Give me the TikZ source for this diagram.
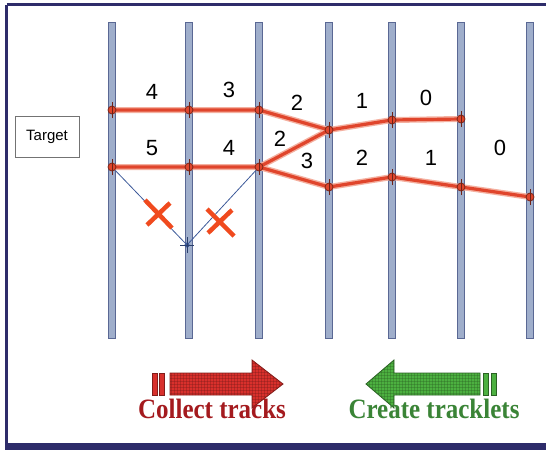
\documentclass[tikz,border=0pt]{standalone}
\usepackage{fontspec}
\setmainfont{Liberation Serif}
\setsansfont{Liberation Sans}
\usetikzlibrary{patterns}
\definecolor{framec}{HTML}{2E2C6A}
\definecolor{barfill}{HTML}{9FAECB}
\definecolor{bardraw}{HTML}{5A6894}
\definecolor{trk}{HTML}{E0452C}
\definecolor{trkglow}{HTML}{F4B0A0}
\definecolor{thinb}{HTML}{3D5A9A}
\definecolor{xred}{HTML}{F04A1E}
\definecolor{redarr}{HTML}{D8302C}
\definecolor{redtxt}{HTML}{A41A1E}
\definecolor{grnarr}{HTML}{4CB040}
\definecolor{grntxt}{HTML}{3A8436}
\tikzset{
  bar/.style={fill=barfill,draw=bardraw,line width=0.9pt},
  pt/.style={circle,fill=trk,draw=trk!55!black,line width=0.8pt,inner sep=0pt,minimum size=8pt},
  bpt/.style={circle,fill=thinb,inner sep=0pt,minimum size=5pt},
  glow/.style={trkglow,line width=6pt,line join=round},
  track/.style={trk,line width=3.2pt,line join=round},
  thin/.style={thinb,line width=0.8pt},
  xmark/.style={xred,line width=4.5pt},
  lab/.style={font=\sffamily\fontsize{22}{22}\selectfont,inner sep=0pt},
  arrtxt/.style={font=\bfseries\fontsize{25}{25}\selectfont,inner sep=0pt,yscale=1.12,transform shape}
}
\begin{document}
\begin{tikzpicture}[x=1pt,y=-1pt]
\useasboundingbox (0,0) rectangle (546,450);
\fill[white] (0,0) rectangle (546,450);
% frame
\draw[framec,line width=3pt] (6.5,4.5) -- (548,4.5);
\draw[framec,line width=3pt] (6.5,4.5) -- (6.5,446);
\fill[framec] (5,443) rectangle (546,450);
% bars
\foreach \n/\x in {1/112,2/189,3/259,4/329,5/392,6/461,7/530}{
  \draw[bar] (\x-3.5,22) rectangle (\x+3.5,338);
}
% points
\coordinate (a1) at (112,110);
\coordinate (a2) at (189,110);
\coordinate (a3) at (259,110);
\coordinate (m4) at (329,130);
\coordinate (a5) at (392,120);
\coordinate (a6) at (461,119);
\coordinate (b1) at (112,167);
\coordinate (b2) at (189,167);
\coordinate (b3) at (259,167);
\coordinate (b4) at (329,187);
\coordinate (b5) at (392,177);
\coordinate (b6) at (461,187);
\coordinate (b7) at (530,197);
\coordinate (v) at (187,245);
% thin blue lines
\draw[thin] (b1) -- (v) -- (b3);
% tracks
\foreach \s in {glow,track}{
  \draw[\s] (a1) -- (a2) -- (a3) -- (m4) -- (a5) -- (a6);
  \draw[\s] (b1) -- (b2) -- (b3) -- (b4) -- (b5) -- (b6) -- (b7);
  \draw[\s] (b3) -- (m4);
}
\foreach \p in {a1,a2,a3,m4,a5,a6,b1,b2,b3,b4,b5,b6,b7}{
  \node[pt] at (\p) {};
  \draw[trk!50!black,line width=0.6pt] ([yshift=-8pt]\p) -- ([yshift=8pt]\p);
}
\node[bpt] at (v) {};
\draw[thinb!70!black,line width=0.6pt] ([yshift=-8pt]v) -- ([yshift=8pt]v) ([xshift=-7pt]v) -- ([xshift=7pt]v);
% crosses
\draw[xmark] (145,200) -- (172,228) (170,203) -- (147,225);
\draw[xmark] (207,209) -- (234,236) (232,210) -- (208,233);
% labels
\node[lab] (l1) at (152,92) {4};
\node[lab] (l2) at (229,90) {3};
\node[lab] (l3) at (297,103) {2};
\node[lab] (l4) at (362,101) {1};
\node[lab] (l5) at (426,98) {0};
\node[lab] (l6) at (152,148) {5};
\node[lab] (l7) at (229,148) {4};
\node[lab] (l8) at (280,139) {2};
\node[lab] (l9) at (307,161) {3};
\node[lab] (l10) at (362,158) {2};
\node[lab] (l11) at (431,158) {1};
\node[lab] (l12) at (500,148) {0};
% target
\node[draw=black!55,line width=0.7pt,minimum width=64pt,minimum height=41pt,inner sep=0pt,font=\sffamily\fontsize{15}{15}\selectfont] (tgt) at (47,137) {Target};
% red arrow
\fill[redarr] (152,373) rectangle (157,395);
\fill[redarr] (159,373) rectangle (164,395);
\path[fill=redarr,draw=redarr!60!black,line width=0.8pt] (170,373) -- (252,373) -- (252,360) -- (283,384) -- (252,408) -- (252,395) -- (170,395) -- cycle;
\path[pattern=grid,pattern color=redarr!55!black,opacity=0.35] (170,373) -- (252,373) -- (252,360) -- (283,384) -- (252,408) -- (252,395) -- (170,395) -- cycle;
\draw[redarr!60!black,line width=0.5pt] (152,373) rectangle (157,395) (159,373) rectangle (164,395);
% green arrow
\fill[grnarr] (483,373) rectangle (488,395);
\fill[grnarr] (491,373) rectangle (496,395);
\path[fill=grnarr,draw=grnarr!55!black,line width=0.8pt] (480,373) -- (394,373) -- (394,360) -- (366,384) -- (394,408) -- (394,395) -- (480,395) -- cycle;
\path[pattern=grid,pattern color=grnarr!55!black,opacity=0.35] (480,373) -- (394,373) -- (394,360) -- (366,384) -- (394,408) -- (394,395) -- (480,395) -- cycle;
\draw[grnarr!55!black,line width=0.5pt] (483,373) rectangle (488,395) (491,373) rectangle (496,395);
% texts
\node[arrtxt,text=redtxt,anchor=base] (t1) at (212,418) {Collect tracks};
\node[arrtxt,text=grntxt,anchor=base] (t2) at (434,418) {Create tracklets};
\end{tikzpicture}
\end{document}
